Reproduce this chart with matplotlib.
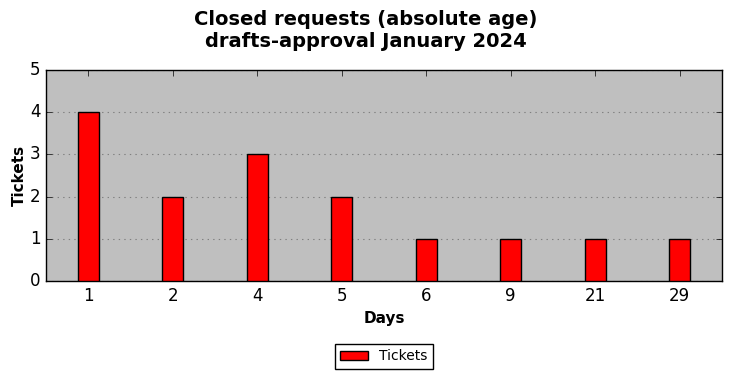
import matplotlib
matplotlib.use("Agg")
import matplotlib.pyplot as plt
import numpy as np

plt.style.use("classic")

days = ["1", "2", "4", "5", "6", "9", "21", "29"]
tickets = [4, 2, 3, 2, 1, 1, 1, 1]

fig = plt.figure(figsize=(7.32, 3.78), dpi=100)
ax = fig.add_axes([46 / 732, 1 - 281 / 378, 676 / 732, 211 / 378])
ax.set_facecolor("#bfbfbf")

x = np.arange(len(days))
ax.bar(x, tickets, width=0.25, color="red", edgecolor="black", linewidth=1,
       align="center", label="Tickets", zorder=3)
ax.set_xticks(x)
ax.set_xticklabels(days)
ax.set_xlim(-0.5, len(days) - 0.5)
ax.set_ylim(0, 5)
ax.set_yticks(range(6))
ax.tick_params(labelsize=12)
ax.yaxis.grid(True, linestyle=":", color="#808080", linewidth=0.8, zorder=0)
ax.set_axisbelow(True)

ax.set_xlabel("Days", fontsize=11, fontweight="bold")
ax.set_ylabel("Tickets", fontsize=11, fontweight="bold", labelpad=2)
fig.suptitle("Closed requests (absolute age)\ndrafts-approval January 2024",
             fontsize=14, fontweight="bold", y=0.973)

ax.legend(loc="upper center", bbox_to_anchor=(0.5, -0.265), fontsize=10,
          ncol=1, frameon=True, fancybox=False, handlelength=2.0)

fig.savefig("out.png", dpi=100)
